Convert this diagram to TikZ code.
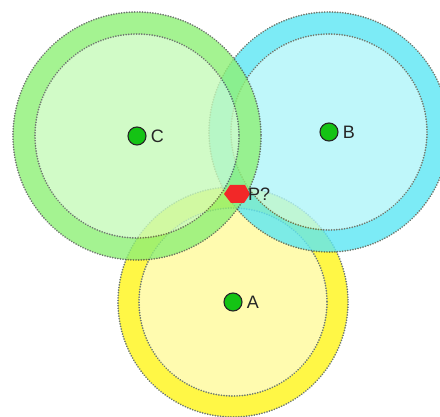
\documentclass[tikz,border=0pt]{standalone}
\usepackage{fontspec}
\setmainfont{Liberation Sans}
\begin{document}
\begin{tikzpicture}[x=1pt,y=-1pt,
  ringline/.style={draw=rimgray, line width=1.9pt, line cap=round, dash pattern=on 0.01pt off 2.6pt},
  station/.style={circle, fill=dotgreen, draw=black!85, line width=1.1pt, minimum size=18pt, inner sep=0pt},
  tag/.style={anchor=west, inner sep=0pt, font=\fontsize{18}{18}\selectfont, text=black!85},
  unknown/.style={fill=pred, draw=none}]
\definecolor{rimgray}{RGB}{75,88,75}
\definecolor{dotgreen}{RGB}{20,195,20}
\definecolor{pred}{RGB}{242,40,40}
\definecolor{ringA}{RGB}{255,246,24}
\definecolor{coreA}{RGB}{255,251,155}
\definecolor{ringB}{RGB}{92,231,244}
\definecolor{coreB}{RGB}{176,246,249}
\definecolor{ringC}{RGB}{142,240,118}
\definecolor{coreC}{RGB}{198,250,186}
\useasboundingbox (0,0) rectangle (440,417);
\fill[white] (0,0) rectangle (440,417);

% coverage zones: outer ring band, inner disc and dotted borders, each translucent
\begin{scope}[transparency group, opacity=0.8]
  \fill[ringA] (233,302) circle (115);
  \fill[coreA] (233,302) circle (94);
  \draw[ringline] (233,302) circle (115);
  \draw[ringline] (233,302) circle (94);
\end{scope}
\begin{scope}[transparency group, opacity=0.8]
  \fill[ringB] (329,132) circle (120);
  \fill[coreB] (329,132) circle (98);
  \draw[ringline] (329,132) circle (120);
  \draw[ringline] (329,132) circle (98);
\end{scope}
\begin{scope}[transparency group, opacity=0.8]
  \fill[ringC] (137,136) circle (124);
  \fill[coreC] (137,136) circle (102);
  \draw[ringline] (137,136) circle (124);
  \draw[ringline] (137,136) circle (102);
\end{scope}

% stations
\node[station] (A) at (233,302) {};
\node[station] (B) at (329,132) {};
\node[station] (C) at (137,136) {};
\node[tag] (Alabel) at ([xshift=4pt]A.east) {A};
\node[tag] (Blabel) at ([xshift=4pt]B.east) {B};
\node[tag] (Clabel) at ([xshift=4pt]C.east) {C};

% estimated position
\coordinate (P) at (237,194);
\fill[unknown] (224,194) -- (230,185) -- (245,185) -- (250,194) -- (244,203) -- (231,203) -- cycle;
\node[tag] (Plabel) at (248,194) {P?};
\end{tikzpicture}
\end{document}
